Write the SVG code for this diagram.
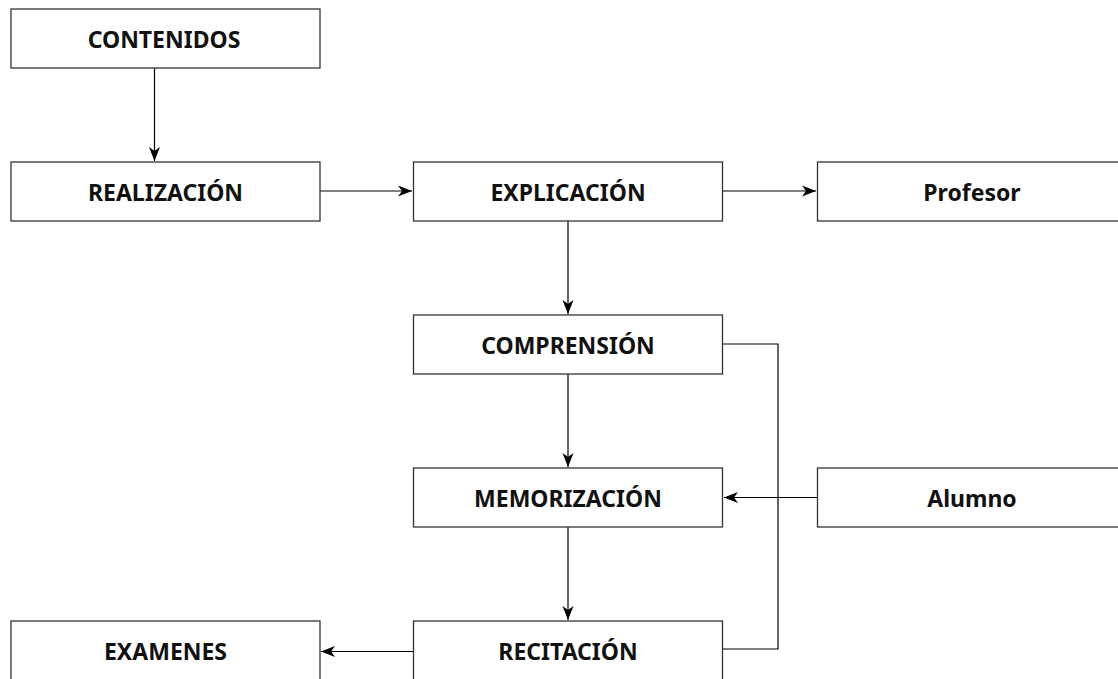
<svg xmlns="http://www.w3.org/2000/svg" width="1118" height="679" viewBox="0 0 1118 679">
<style>
.box{fill:#fff;stroke:#333;stroke-width:1.3}
.lbl{font-family:"Noto Sans","Open Sans",sans-serif;font-weight:bold;font-size:23px;fill:#111;text-anchor:middle}
.edge{fill:none;stroke:#000;stroke-width:1.2}
</style>
<defs>
<marker id="arr" markerWidth="16" markerHeight="14" refX="14" refY="7" orient="auto" markerUnits="userSpaceOnUse">
<path d="M0,1.5 L14,7 L0,12.5 L4,7 Z" fill="#000"/>
</marker>
</defs>
<rect width="1118" height="679" fill="#fff"/>
<g id="connectors">
<path class="edge" d="M154.5,68 V161" marker-end="url(#arr)"/>
<path class="edge" d="M320,191 H412" marker-end="url(#arr)"/>
<path class="edge" d="M723,191 H816" marker-end="url(#arr)"/>
<path class="edge" d="M568,221 V314" marker-end="url(#arr)"/>
<path class="edge" d="M568,374 V467" marker-end="url(#arr)"/>
<path class="edge" d="M568,527 V620" marker-end="url(#arr)"/>
<path class="edge" d="M817,497.5 H724" marker-end="url(#arr)"/>
<path class="edge" d="M413,651.5 H321" marker-end="url(#arr)"/>
<path class="edge" d="M723,344 H778 V649 H723"/>
</g>
<g id="contenidos"><rect class="box" x="11" y="9" width="309" height="59"/><text class="lbl" x="164" y="47.5">CONTENIDOS</text></g>
<g id="realizacion"><rect class="box" x="11" y="162" width="309" height="59"/><text class="lbl" x="165.5" y="200.5">REALIZACIÓN</text></g>
<g id="explicacion"><rect class="box" x="413.5" y="162" width="309" height="59"/><text class="lbl" x="568" y="200.5">EXPLICACIÓN</text></g>
<g id="profesor"><rect class="box" x="817.5" y="162" width="310" height="59"/><text class="lbl" x="972" y="200.5">Profesor</text></g>
<g id="comprension"><rect class="box" x="413.5" y="315" width="309" height="59"/><text class="lbl" x="568" y="353.5">COMPRENSIÓN</text></g>
<g id="memorizacion"><rect class="box" x="413.5" y="468" width="309" height="59"/><text class="lbl" x="568" y="506.5">MEMORIZACIÓN</text></g>
<g id="alumno"><rect class="box" x="817.5" y="468" width="310" height="59"/><text class="lbl" x="972" y="506.5">Alumno</text></g>
<g id="recitacion"><rect class="box" x="413.5" y="621" width="309" height="59"/><text class="lbl" x="568" y="659.5">RECITACIÓN</text></g>
<g id="examenes"><rect class="box" x="11" y="621" width="309" height="59"/><text class="lbl" x="165.5" y="659.5">EXAMENES</text></g>
</svg>
